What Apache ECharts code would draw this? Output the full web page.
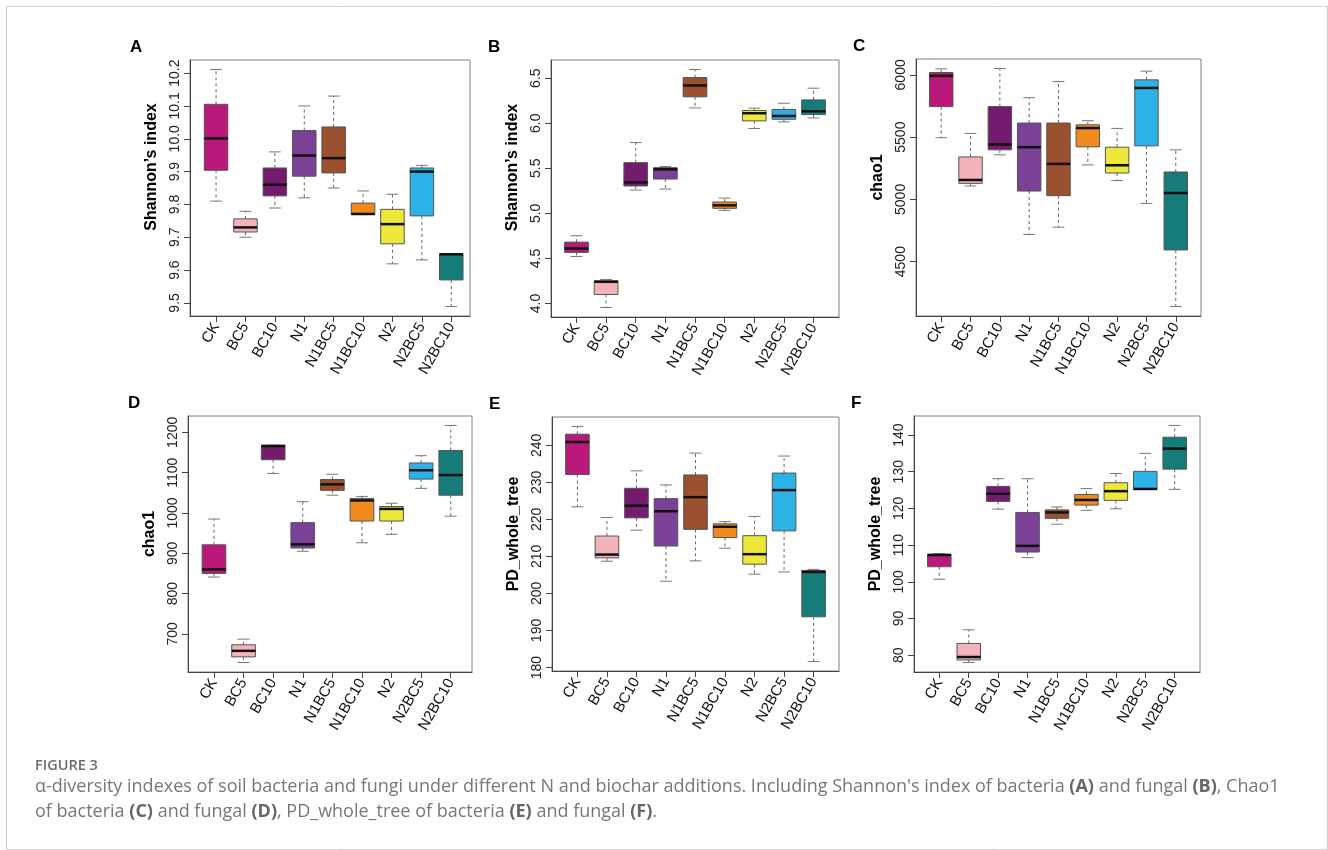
<!DOCTYPE html>
<html>
<head>
<meta charset="utf-8">
<script src="https://cdn.jsdelivr.net/npm/echarts@6/dist/echarts.min.js"></script>
<style>
  body { margin: 0; background: #fff; }
  #fig { width: 1328px; height: 850px; }
</style>
</head>
<body>
<div id="fig"></div>
<script>
const categories = ["CK", "BC5", "BC10", "N1", "N1BC5", "N1BC10", "N2", "N2BC5", "N2BC10"];
const boxColors = ["#B8197A", "#F3B3BD", "#741B6E", "#7B4197", "#9B5030", "#F08A1F", "#EDE83A", "#2DB2E8", "#167C79"];

// each row: [lower whisker, Q1, median, Q3, upper whisker]
const shannonBacteria = [
  [9.810, 9.904, 10.001, 10.105, 10.211],
  [9.700, 9.716, 9.730, 9.756, 9.779],
  [9.789, 9.826, 9.860, 9.911, 9.960],
  [9.820, 9.886, 9.949, 10.025, 10.100],
  [9.850, 9.896, 9.941, 10.036, 10.130],
  [9.769, 9.769, 9.771, 9.804, 9.841],
  [9.619, 9.680, 9.740, 9.785, 9.831],
  [9.631, 9.765, 9.900, 9.911, 9.919],
  [9.489, 9.570, 9.648, 9.650, 9.650]
];
const shannonFungi = [
  [4.522, 4.567, 4.611, 4.681, 4.752],
  [3.956, 4.100, 4.241, 4.252, 4.267],
  [5.259, 5.304, 5.344, 5.563, 5.785],
  [5.270, 5.381, 5.489, 5.507, 5.519],
  [6.170, 6.293, 6.419, 6.507, 6.596],
  [5.033, 5.056, 5.089, 5.126, 5.170],
  [5.941, 6.026, 6.111, 6.141, 6.167],
  [6.015, 6.044, 6.081, 6.152, 6.222],
  [6.059, 6.096, 6.133, 6.259, 6.389]
];
const chao1Bacteria = [
  [5495, 5745, 5992, 6019, 6048],
  [5108, 5129, 5156, 5341, 5530],
  [5358, 5398, 5441, 5745, 6051],
  [4718, 5067, 5419, 5613, 5817],
  [4777, 5030, 5285, 5613, 5946],
  [5277, 5422, 5573, 5599, 5632],
  [5151, 5212, 5274, 5419, 5570],
  [4968, 5430, 5895, 5960, 6030],
  [4140, 4594, 5051, 5220, 5398]
];
const chao1Fungi = [
  [841, 850, 860, 921, 985],
  [629, 643, 658, 673, 687],
  [1098, 1132, 1166, 1168, 1168],
  [905, 913, 922, 976, 1028],
  [1044, 1056, 1071, 1083, 1096],
  [926, 980, 1031, 1036, 1041],
  [947, 980, 1010, 1016, 1024],
  [1061, 1084, 1106, 1124, 1142],
  [992, 1044, 1094, 1155, 1217]
];
const pdBacteria = [
  [223.4, 232.1, 240.9, 243.0, 245.1],
  [208.7, 209.6, 210.5, 215.5, 220.5],
  [217.1, 220.4, 223.7, 228.4, 233.1],
  [203.3, 212.8, 222.2, 225.6, 229.3],
  [208.8, 217.3, 226.0, 232.0, 237.9],
  [212.2, 215.1, 218.0, 218.8, 219.4],
  [205.2, 207.9, 210.6, 215.6, 220.8],
  [205.8, 216.9, 227.9, 232.5, 237.1],
  [181.6, 193.7, 205.8, 206.2, 206.5]
];
const pdFungi = [
  [100.7, 104.1, 107.3, 107.5, 107.7],
  [78.0, 78.7, 79.5, 83.2, 86.9],
  [119.8, 121.9, 124.0, 126.0, 128.1],
  [106.6, 108.1, 109.8, 118.9, 128.1],
  [115.7, 117.3, 118.9, 119.6, 120.4],
  [119.5, 120.9, 122.3, 123.8, 125.4],
  [119.9, 122.2, 124.7, 127.0, 129.5],
  [125.2, 125.2, 125.3, 130.1, 135.0],
  [125.2, 130.7, 136.3, 139.4, 142.6]
];

const ticksA = [9.5, 9.6, 9.7, 9.8, 9.9, 10.0, 10.1, 10.2];
const ticksB = [4.0, 4.5, 5.0, 5.5, 6.0, 6.5];
const ticksC = [4500, 5000, 5500, 6000];
const ticksD = [700, 800, 900, 1000, 1100, 1200];
const ticksE = [180, 190, 200, 210, 220, 230, 240];
const ticksF = [80, 90, 100, 110, 120, 130, 140];

const panels = [
  { letter: "A", data: shannonBacteria, ticks: ticksA, dec: 1, name: "Shannon\u2019s index", grid: [190, 60, 280, 256], xr: [0.114, 9.637], lift: 42 },
  { letter: "B", data: shannonFungi, ticks: ticksB, dec: 1, name: "Shannon\u2019s index", grid: [551, 60, 288, 257], xr: [0.14, 9.86], lift: 42 },
  { letter: "C", data: chao1Bacteria, ticks: ticksC, dec: 0, name: "chao1", grid: [916, 59, 285, 257], xr: [0.14, 9.86], lift: 20 },
  { letter: "D", data: chao1Fungi, ticks: ticksD, dec: 0, name: "chao1", grid: [188, 416, 284, 256], xr: [0.123, 9.718], lift: 20 },
  { letter: "E", data: pdBacteria, ticks: ticksE, dec: 0, name: "PD_whole_tree", grid: [552, 417, 287, 254], xr: [0.14, 9.86], lift: 20 },
  { letter: "F", data: pdFungi, ticks: ticksF, dec: 0, name: "PD_whole_tree", grid: [914, 416, 286, 256], xr: [0.14, 9.86], lift: 20 }
];

const catTicks = categories.map((c, i) => i + 1);

function renderBox(params, api) {
  let x = api.value(0);
  let lo = api.coord([x, api.value(1)]);
  let q1 = api.coord([x, api.value(2)]);
  let md = api.coord([x, api.value(3)]);
  let q3 = api.coord([x, api.value(4)]);
  let hi = api.coord([x, api.value(5)]);
  let half = api.size([0.8, 0])[0] / 2;
  let staple = api.size([0.4, 0])[0] / 2;
  let cx = lo[0];
  let dash = { stroke: "#666", lineWidth: 1, lineDash: [3, 3] };
  let cap = { stroke: "#777", lineWidth: 1 };
  return {
    type: "group",
    children: [
      { type: "line", shape: { x1: cx, y1: q3[1], x2: cx, y2: hi[1] }, style: dash },
      { type: "line", shape: { x1: cx, y1: q1[1], x2: cx, y2: lo[1] }, style: dash },
      { type: "line", shape: { x1: cx - staple, y1: hi[1], x2: cx + staple, y2: hi[1] }, style: cap },
      { type: "line", shape: { x1: cx - staple, y1: lo[1], x2: cx + staple, y2: lo[1] }, style: cap },
      {
        type: "rect",
        shape: { x: cx - half, y: q3[1], width: half * 2, height: q1[1] - q3[1] },
        style: { fill: boxColors[params.dataIndex], stroke: "#555", lineWidth: 1 }
      },
      { type: "line", shape: { x1: cx - half, y1: md[1], x2: cx + half, y2: md[1] }, style: { stroke: "#111", lineWidth: 2.5 } }
    ]
  };
}

let grids = [], xAxes = [], yAxes = [], series = [], graphics = [];

panels.forEach((p, i) => {
  let all = p.data.flat();
  let mn = Math.min(...all), mx = Math.max(...all);
  let pad = (mx - mn) * 0.04;
  grids.push({
    left: p.grid[0], top: p.grid[1], width: p.grid[2], height: p.grid[3],
    show: true, borderColor: "#808080", borderWidth: 1, backgroundColor: "transparent",
    containLabel: false, outerBoundsMode: "none"
  });
  xAxes.push({
    type: "value", gridIndex: i, min: p.xr[0], max: p.xr[1],
    splitLine: { show: false },
    axisLine: { onZero: false, lineStyle: { color: "#444" } },
    axisTick: { customValues: catTicks, length: 6, lineStyle: { color: "#444" } },
    axisLabel: {
      customValues: catTicks, rotate: 60, margin: 8, fontSize: 15,
      fontFamily: "Liberation Sans", color: "#111",
      formatter: (v) => categories[Math.round(v) - 1]
    }
  });
  yAxes.push({
    type: "value", gridIndex: i, min: mn - pad, max: mx + pad,
    splitLine: { show: false },
    axisLine: { show: true, lineStyle: { color: "#444" } },
    axisTick: { show: true, customValues: p.ticks, length: 6, lineStyle: { color: "#444" } },
    axisLabel: {
      customValues: p.ticks, rotate: 90, margin: 8, fontSize: 14,
      fontFamily: "Liberation Sans", color: "#222",
      formatter: (v) => Number(v).toFixed(p.dec)
    },
    name: p.name, nameLocation: "middle", nameGap: 30,
    nameTextStyle: {
      fontFamily: "Liberation Sans", fontWeight: "bold", fontSize: 16, color: "#000",
      padding: [0, 0, 0, p.lift]
    }
  });
  series.push({
    type: "custom", xAxisIndex: i, yAxisIndex: i,
    renderItem: renderBox,
    encode: { x: 0, y: [1, 2, 3, 4, 5] },
    data: p.data.map((row, k) => [k + 1].concat(row)),
    silent: true
  });
  graphics.push({
    type: "text", left: p.grid[0] - (i % 3 === 0 ? 60 : 63), top: p.grid[1] - 21,
    style: { text: p.letter, font: "bold 17px 'Liberation Sans'", fill: "#000" }
  });
});

graphics.push({
  type: "rect", left: 4, top: 4, silent: true,
  shape: { width: 1321, height: 843 },
  style: { fill: "none", stroke: "#cfcfcf", lineWidth: 1 }
});
graphics.push({
  type: "text", left: 35, top: 758,
  style: { text: "FIGURE 3", font: "600 14.5px 'Open Sans'", fill: "#6b6b6b" }
});
let capRich = { b: { fontWeight: "bold", fontFamily: "Open Sans", fontSize: 18, fill: "#666" } };
graphics.push({
  type: "text", left: 35, top: 778,
  style: {
    text: "\u03b1-diversity indexes of soil bacteria and fungi under different N and biochar additions. Including Shannon's index of bacteria {b|(A)} and fungal {b|(B)}, Chao1",
    font: "18px 'Open Sans'", fill: "#777", rich: capRich
  }
});
graphics.push({
  type: "text", left: 35, top: 803,
  style: {
    text: "of bacteria {b|(C)} and fungal {b|(D)}, PD_whole_tree of bacteria {b|(E)} and fungal {b|(F)}.",
    font: "18px 'Open Sans'", fill: "#777", rich: capRich
  }
});

let chart = echarts.init(document.getElementById("fig"));
chart.setOption({
  animation: false,
  backgroundColor: "#fff",
  grid: grids,
  xAxis: xAxes,
  yAxis: yAxes,
  series: series,
  graphic: graphics
});
</script>
</body>
</html>
